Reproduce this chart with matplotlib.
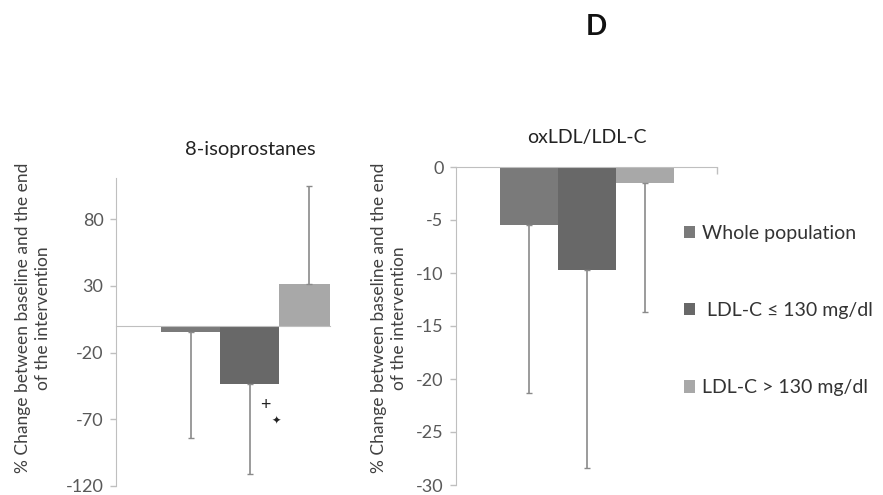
import matplotlib
matplotlib.use("Agg")
import matplotlib.pyplot as plt
from matplotlib.patches import Patch
from matplotlib.transforms import blended_transform_factory

plt.rcParams['font.family'] = ['Lato', 'DejaVu Sans']
plt.rcParams['axes.unicode_minus'] = False

groups = ["Whole population", " LDL-C \u2264 130 mg/dl", "LDL-C > 130 mg/dl"]
colors = ["#7a7a7a", "#686868", "#a8a8a8"]

# 8-isoprostanes, % change (bars) and lower/upper error
iso_vals = [-4.5, -43.5, 31.5]
iso_err_low = [79.5, 67.5, 0]
iso_err_up = [0, 0, 73.5]
iso_ticks = [-120, -70, -20, 30, 80]

# oxLDL/LDL-C
ox_vals = [-5.5, -9.7, -1.5]
ox_err_low = [15.8, 18.7, 12.2]
ox_ticks = [0, -5, -10, -15, -20, -25, -30]

ylab = "% Change between baseline and the end\nof the intervention"
axis_col = "#bfbfbf"
tick_col = "#595959"
err_col = "#8a8a8a"

fig = plt.figure(figsize=(8.83, 4.95), dpi=100)

x = [0, 1, 2]

# left panel (cut off on the right, as in the original)
ax1 = fig.add_axes([116/883, 1-486/495, (330-116)/883, (486-178)/495])
ax1.bar(x, iso_vals, width=1.0, color=colors, zorder=2)
ax1.errorbar(x, iso_vals, yerr=[iso_err_low, iso_err_up], fmt="none",
             ecolor=err_col, elinewidth=1.2, capsize=2.5, capthick=1.0, zorder=3)
ax1.set_xlim(-1.27, 2.36)
ax1.set_ylim(-120, 111)
ax1.set_yticks(iso_ticks)
ax1.set_xticks([])
for s in ["top", "right"]:
    ax1.spines[s].set_visible(False)
ax1.spines["bottom"].set_position(("data", 0))
ax1.spines["bottom"].set_color(axis_col)
ax1.spines["left"].set_color(axis_col)
ax1.tick_params(axis="y", colors=axis_col, labelcolor=tick_col, labelsize=13,
                length=4, width=1.0, pad=5)
trans = blended_transform_factory(ax1.transData, fig.transFigure)
ax1.text(1.0, 1-150/495, "8-isoprostanes", transform=trans,
         fontsize=14.5, color="#222222", ha="center", va="center")
ax1.text(1.27, -59, "+", fontsize=13, color="#222222", ha="center", va="center")
ax1.text(1.44, -71, "\u2726", fontsize=8, color="#222222", ha="center", va="center")
fig.text(33/883, 1-318/495, ylab, rotation=90, ha="center", va="center",
         fontsize=12.5, color="#404040", linespacing=1.25)

# right panel
ax2 = fig.add_axes([456/883, 1-485/495, (717-456)/883, (485-167)/495])
ax2.bar(x, ox_vals, width=1.0, color=colors, zorder=2)
ax2.errorbar(x, ox_vals, yerr=[ox_err_low, [0, 0, 0]], fmt="none",
             ecolor=err_col, elinewidth=1.2, capsize=2.5, capthick=1.0, zorder=3)
ax2.set_xlim(-1.25, 3.25)
ax2.set_ylim(-30, 0)
ax2.set_yticks(ox_ticks)
for s in ["bottom", "right"]:
    ax2.spines[s].set_visible(False)
ax2.spines["top"].set_color(axis_col)
ax2.spines["left"].set_color(axis_col)
ax2.xaxis.tick_top()
ax2.set_xticks([3.25])
ax2.set_xticklabels([])
ax2.tick_params(axis="x", direction="in", colors=axis_col, length=5, width=1.0)
ax2.tick_params(axis="y", colors=axis_col, labelcolor=tick_col, labelsize=13,
                length=4, width=1.0, pad=5)
ax2.set_title("oxLDL/LDL-C", fontsize=14, color="#222222", pad=17)
fig.text(389/883, 1-318/495, ylab, rotation=90, ha="center", va="center",
         fontsize=12.5, color="#404040", linespacing=1.25)

# legend
handles = [Patch(facecolor=c, edgecolor="none") for c in colors]
fig.legend(handles, groups, loc="upper left", bbox_to_anchor=(674/883, 1-215/495),
           frameon=False, fontsize=14, labelcolor="#333333",
           handlelength=0.6, handleheight=0.6, handletextpad=0.35,
           labelspacing=3.1, borderpad=0)

fig.text(596/883, 1-27/495, "D", fontsize=20, fontweight="bold",
         ha="center", va="center", color="#111111")

fig.savefig("out.png", dpi=100)
